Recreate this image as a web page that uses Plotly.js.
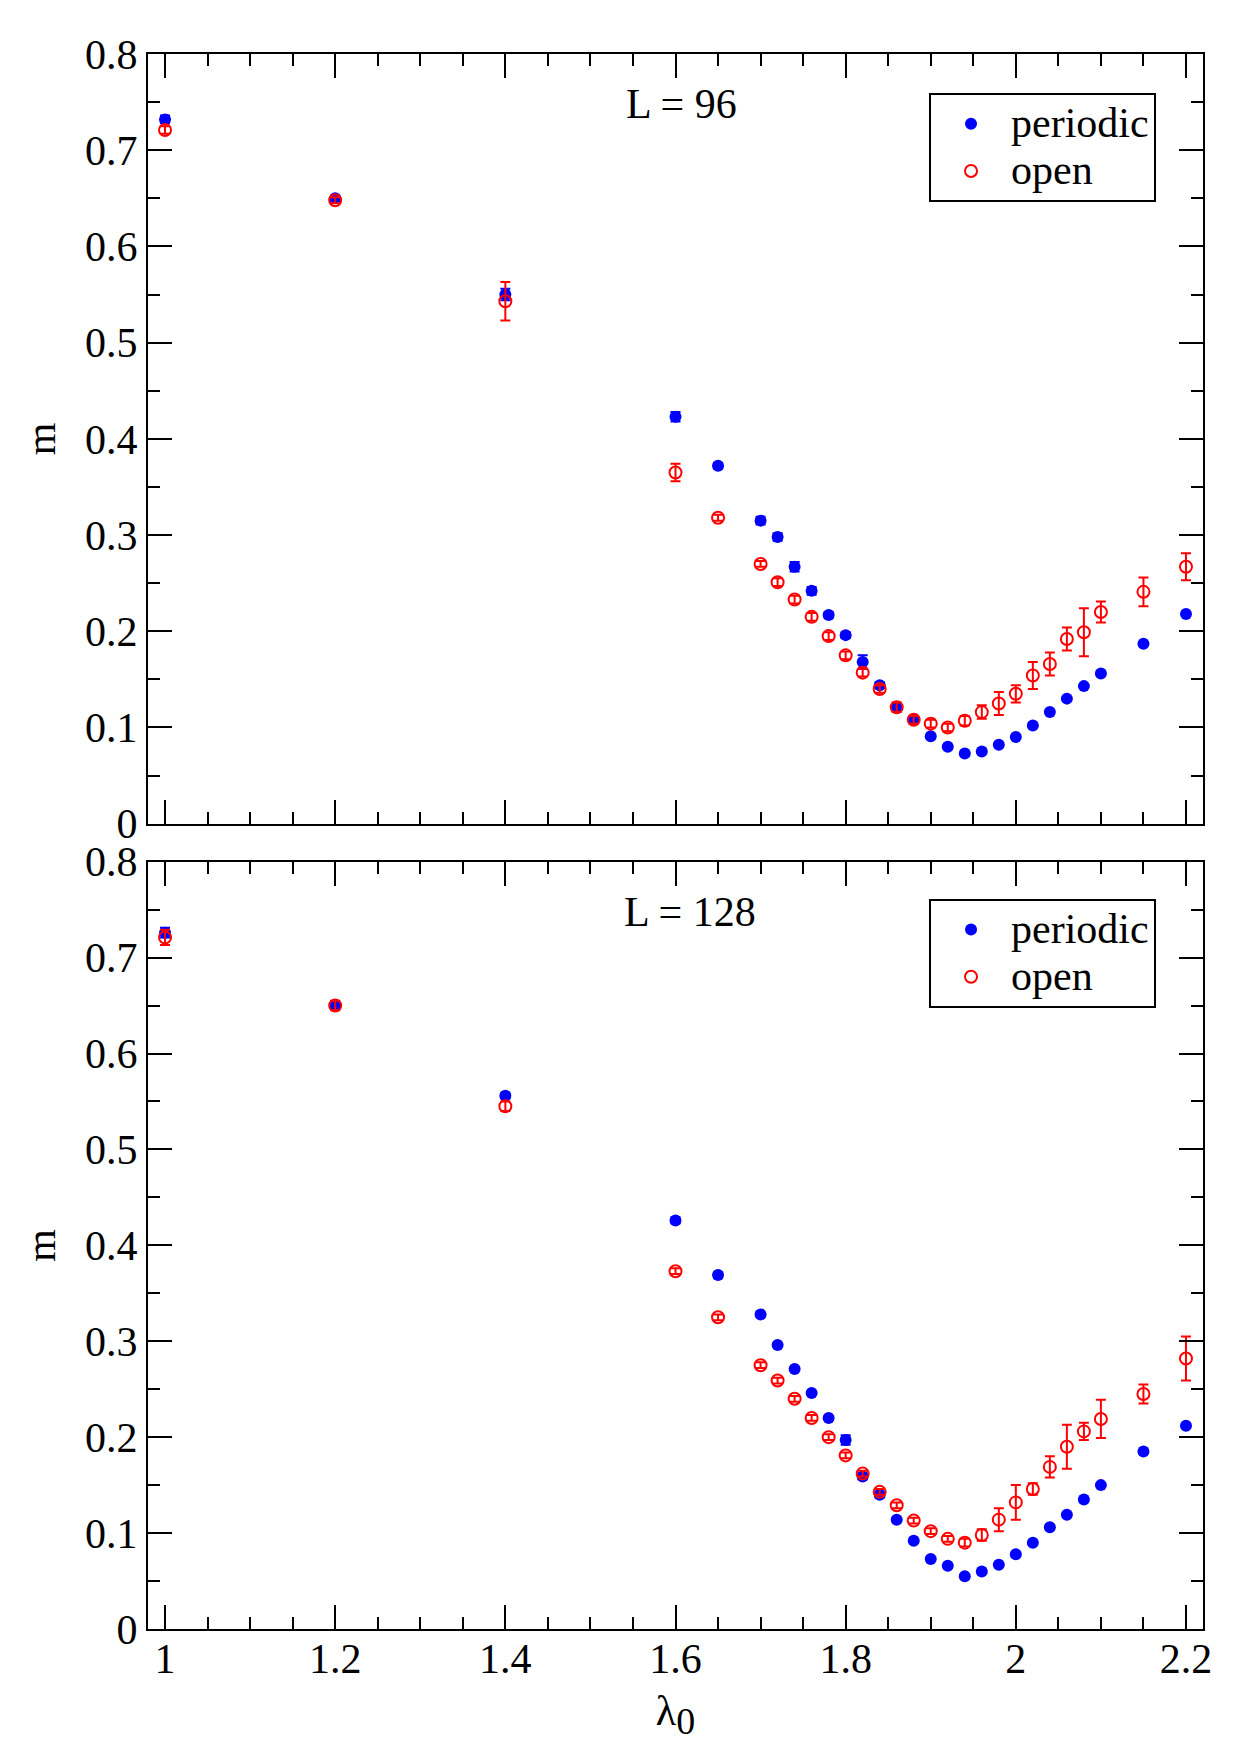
<!DOCTYPE html>
<html>
<head>
<meta charset="utf-8">
<script src="https://cdn.plot.ly/plotly-3.0.1.min.js"></script>
<style>html,body{margin:0;padding:0;background:#fff;}</style>
</head>
<body>
<div id="chart" style="width:1240px;height:1755px;"></div>
<script>
// lambda_0 values (shared by both panels)
const lambda0 = [1.0,1.2,1.4,1.6,1.65,1.7,1.72,1.74,1.76,1.78,1.8,1.82,1.84,1.86,1.88,1.9,1.92,1.94,1.96,1.98,2.0,2.02,2.04,2.06,2.08,2.1,2.15,2.2];

// L = 96
const m96_periodic     = [0.732,0.650,0.550,0.423,0.372,0.315,0.298,0.267,0.242,0.217,0.196,0.168,0.144,0.121,0.108,0.091,0.080,0.073,0.075,0.082,0.090,0.102,0.116,0.130,0.143,0.156,0.187,0.218];
const m96_periodic_err = [0.004,0.003,0.006,0.005,0.003,0.004,0.004,0.005,0.004,0.003,0.003,0.007,0.003,0.003,0.002,0.001,0.001,0.001,0.001,0.001,0.001,0.001,0.001,0.001,0.001,0.001,0.001,0.001];
const m96_open         = [0.721,0.648,0.543,0.365,0.318,0.270,0.251,0.233,0.215,0.195,0.175,0.157,0.140,0.121,0.108,0.104,0.100,0.107,0.116,0.125,0.135,0.154,0.166,0.192,0.199,0.220,0.241,0.267];
const m96_open_err     = [0.004,0.003,0.020,0.009,0.003,0.003,0.004,0.004,0.004,0.004,0.004,0.004,0.004,0.005,0.004,0.004,0.004,0.005,0.007,0.012,0.009,0.014,0.012,0.012,0.025,0.011,0.015,0.014];

// L = 128
const m128_periodic     = [0.726,0.650,0.556,0.426,0.369,0.328,0.296,0.271,0.246,0.220,0.197,0.159,0.140,0.114,0.092,0.073,0.066,0.055,0.060,0.067,0.078,0.090,0.106,0.119,0.135,0.150,0.185,0.212];
const m128_periodic_err = [0.005,0.004,0.003,0.003,0.003,0.002,0.002,0.002,0.002,0.002,0.005,0.003,0.003,0.002,0.001,0.001,0.001,0.001,0.001,0.001,0.001,0.001,0.001,0.001,0.001,0.001,0.001,0.001];
const m128_open         = [0.721,0.650,0.545,0.373,0.325,0.275,0.259,0.240,0.220,0.200,0.181,0.162,0.143,0.129,0.113,0.102,0.094,0.090,0.098,0.114,0.132,0.146,0.169,0.190,0.206,0.219,0.245,0.282];
const m128_open_err     = [0.008,0.005,0.005,0.003,0.003,0.003,0.003,0.003,0.003,0.003,0.003,0.003,0.003,0.003,0.003,0.003,0.003,0.004,0.006,0.012,0.018,0.006,0.011,0.023,0.009,0.020,0.010,0.023];

const seriesNames = ['periodic','open'];
const panelLabels = ['L = 96','L = 128'];

const FONT = 'Liberation Serif, Times New Roman, serif';
const FS = 42;

function legendName(s){ return '<span style="font-size:' + FS + 'px">' + s + '</span>'; }

function periodicTrace(y, err, xa, ya, leg){
  return {x: lambda0, y: y, xaxis: xa, yaxis: ya, type:'scatter', mode:'markers',
    name: legendName(seriesNames[0]), legend: leg,
    marker:{symbol:'circle', size:12, color:'#0000ff'},
    error_y:{type:'data', array: err, visible:true, color:'#0000ff', thickness:2, width:5}};
}
function openTrace(y, err, xa, ya, leg){
  return {x: lambda0, y: y, xaxis: xa, yaxis: ya, type:'scatter', mode:'markers',
    name: legendName(seriesNames[1]), legend: leg,
    marker:{symbol:'circle-open', size:12, color:'#ff0000', line:{width:2, color:'#ff0000'}},
    error_y:{type:'data', array: err, visible:true, color:'#ff0000', thickness:2, width:5}};
}

const data = [
  periodicTrace(m96_periodic, m96_periodic_err, 'x', 'y', 'legend'),
  openTrace(m96_open, m96_open_err, 'x', 'y', 'legend'),
  periodicTrace(m128_periodic, m128_periodic_err, 'x2', 'y2', 'legend2'),
  openTrace(m128_open, m128_open_err, 'x2', 'y2', 'legend2')
];

const minorX = {dtick:0.05, ticklen:12, tickwidth:2, tickcolor:'black', ticks:'inside'};
const minorY = {dtick:0.05, ticklen:12, tickwidth:2, tickcolor:'black', ticks:'inside'};

function xAxis(anchor, labels){
  return {anchor: anchor, domain:[0,1], range:[0.98,2.22], dtick:0.2, tick0:0,
    ticks:'inside', ticklen:24, tickwidth:2, tickcolor:'black',
    showline:true, linewidth:2, linecolor:'black', mirror:'allticks',
    showgrid:false, zeroline:false, showticklabels: labels, ticklabelstandoff:-8,
    tickfont:{family:FONT, size:FS, color:'black'}, minor: minorX};
}
function yAxis(anchor, domain){
  return {anchor: anchor, domain: domain, range:[0,0.8], dtick:0.1, tick0:0,
    ticks:'inside', ticklen:24, tickwidth:2, tickcolor:'black',
    showline:true, linewidth:2, linecolor:'black', mirror:'allticks',
    showgrid:false, zeroline:false,
    tickfont:{family:FONT, size:FS, color:'black'}, minor: minorY,
    title:{text:'m', font:{family:FONT, size:FS, color:'black'}, standoff:16}};
}

const legendStyle = {
  x:0.7403, xanchor:'left', yanchor:'top', xref:'paper', yref:'paper',
  bordercolor:'black', borderwidth:2, bgcolor:'white',
  font:{family:FONT, size:34, color:'black'}, itemwidth:70
};

const layout = {
  width:1240, height:1755,
  margin:{l:148, r:37, t:54, b:126},
  paper_bgcolor:'white', plot_bgcolor:'white',
  font:{family:FONT, size:FS, color:'black'},
  showlegend:true,
  xaxis: xAxis('y', false),
  yaxis: yAxis('x', [0.5113,1]),
  xaxis2: Object.assign(xAxis('y2', true), {title:{text:'λ<sub><span style="font-family:Liberation Serif;font-size:38px">0</span></sub>', font:{family:FONT, size:FS, color:'black'}, standoff:14}}),
  yaxis2: yAxis('x2', [0,0.4872]),
  legend: Object.assign({}, legendStyle, {y:0.9751}),
  legend2: Object.assign({}, legendStyle, {y:0.4635}),
  annotations:[
    {text: panelLabels[0], xref:'x', yref:'y', x:1.607, y:0.7476, showarrow:false,
     xanchor:'center', yanchor:'middle', font:{family:FONT, size:FS, color:'black'}},
    {text: panelLabels[1], xref:'x2', yref:'y2', x:1.617, y:0.7475, showarrow:false,
     xanchor:'center', yanchor:'middle', font:{family:FONT, size:FS, color:'black'}}
  ]
};

Plotly.newPlot('chart', data, layout, {displayModeBar:false, staticPlot:true});
</script>
</body>
</html>
